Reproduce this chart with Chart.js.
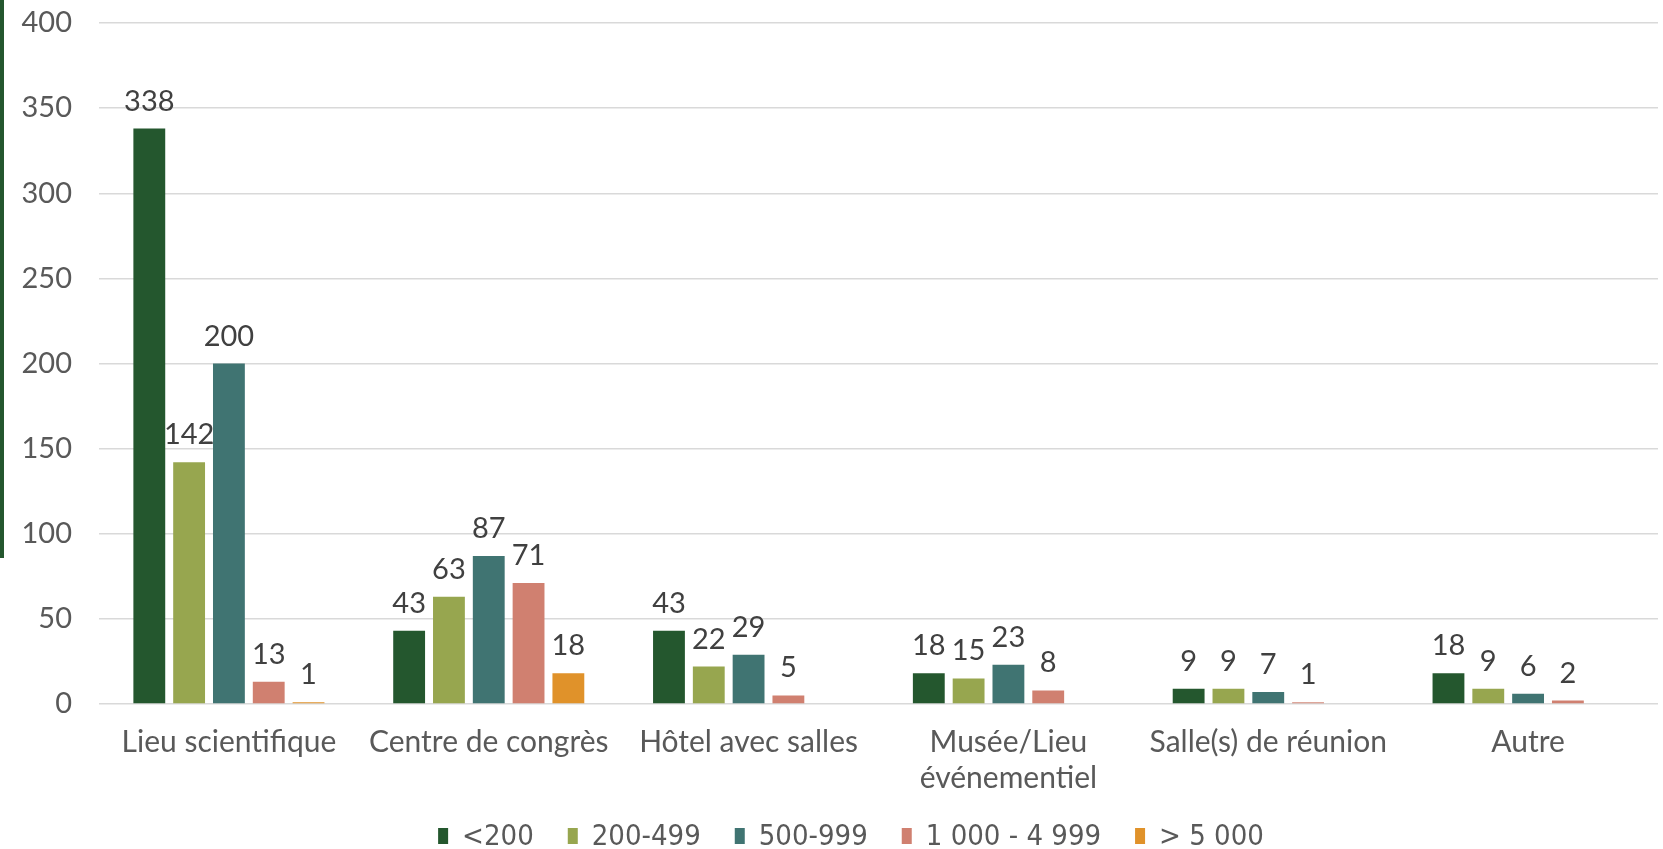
<!DOCTYPE html>
<html>
<head>
<meta charset="utf-8">
<script src="https://cdn.jsdelivr.net/npm/chart.js@4/dist/chart.umd.min.js"></script>
<style>
  html, body { margin: 0; padding: 0; background: #ffffff; overflow: hidden; }
  #wrap { position: relative; width: 1663px; height: 849px; }
  #accent { position: absolute; left: 0; top: 0; width: 4px; height: 558px; background: #24572E; }
  canvas { position: absolute; left: 0; top: 0; }
</style>
</head>
<body>
<div id="wrap">
  <canvas id="c" width="1663" height="849"></canvas>
  <div id="accent"></div>
</div>
<script>
const categories = ["Lieu scientifique", "Centre de congrès", "Hôtel avec salles", ["Musée/Lieu", "événementiel"], "Salle(s) de réunion", "Autre"];
const seriesNames = ["<200", "200-499", "500-999", "1 000 - 4 999", "> 5 000"];
const seriesColors = ["#24572E", "#97A64F", "#407472", "#D08070", "#E0922A"];
const under200 = [338, 43, 43, 18, 9, 18];
const from200to499 = [142, 63, 22, 15, 9, 9];
const from500to999 = [200, 87, 29, 23, 7, 6];
const from1000to4999 = [13, 71, 5, 8, 1, 2];
const over5000 = [1, 18, null, null, null, null];
const yTicks = [0, 50, 100, 150, 200, 250, 300, 350, 400];

const FONT = "Lato, 'Open Sans', sans-serif";
const seriesValues = [under200, from200to499, from500to999, from1000to4999, over5000];

const datasets = seriesValues.map((vals, i) => ({
  label: seriesNames[i],
  data: vals,
  backgroundColor: seriesColors[i],
  borderWidth: 0,
  categoryPercentage: 0.766,
  barPercentage: 0.8
}));

const valueLabels = {
  id: 'valueLabels',
  afterDatasetsDraw(chart) {
    const ctx = chart.ctx;
    ctx.save();
    ctx.font = "29px " + FONT;
    ctx.fillStyle = "#404040";
    ctx.textAlign = "center";
    ctx.textBaseline = "alphabetic";
    chart.data.datasets.forEach((ds, di) => {
      const meta = chart.getDatasetMeta(di);
      meta.data.forEach((el, i) => {
        const v = ds.data[i];
        if (v === null || v === undefined) return;
        ctx.fillText(String(v), el.x, el.y - 18);
      });
    });
    ctx.restore();
  }
};

const customLegend = {
  id: 'customLegend',
  afterDraw(chart) {
    const ctx = chart.ctx;
    ctx.save();
    const fs = 29;
    ctx.font = fs + "px 'Liberation Sans Narrow', 'DejaVu Sans Condensed', " + FONT;
    const boxW = 10, boxH = 16, gapBox = 14, gapItem = 34;
    const widths = seriesNames.map(n => ctx.measureText(n).width);
    let total = 0;
    widths.forEach((w, i) => { total += boxW + gapBox + w + (i < widths.length - 1 ? gapItem : 0); });
    let x = 851 - total / 2;
    const cy = 836;
    ctx.textBaseline = "middle";
    ctx.textAlign = "left";
    seriesNames.forEach((n, i) => {
      ctx.fillStyle = seriesColors[i];
      ctx.fillRect(x, cy - boxH / 2, boxW, boxH);
      ctx.fillStyle = "#595959";
      ctx.fillText(n, x + boxW + gapBox, cy + 1);
      x += boxW + gapBox + widths[i] + gapItem;
    });
    ctx.restore();
  }
};

new Chart(document.getElementById('c'), {
  type: 'bar',
  data: { labels: categories, datasets: datasets },
  options: {
    responsive: false,
    animation: false,
    events: [],
    layout: { padding: { top: 23, right: 5, bottom: 0, left: 0 } },
    plugins: {
      legend: { display: false },
      tooltip: { enabled: false }
    },
    scales: {
      x: {
        grid: { display: false, drawTicks: false },
        border: { display: false },
        ticks: {
          color: "#595959",
          font: { family: FONT, size: 30, lineHeight: 1.2 },
          padding: 20,
          maxRotation: 0,
          autoSkip: false
        },
        afterFit(scale) { scale.height = 145; }
      },
      y: {
        min: 0,
        max: 400,
        afterBuildTicks(scale) { scale.ticks = yTicks.map(v => ({ value: v })); },
        grid: { color: "#D9D9D9", lineWidth: 1.5, drawTicks: false },
        border: { display: false },
        ticks: {
          color: "#595959",
          font: { family: FONT, size: 29 },
          padding: 27
        },
        afterFit(scale) { scale.width = 99; scale.paddingTop = 0; scale.paddingBottom = 0; }
      }
    }
  },
  plugins: [valueLabels, customLegend]
});
</script>
</body>
</html>
